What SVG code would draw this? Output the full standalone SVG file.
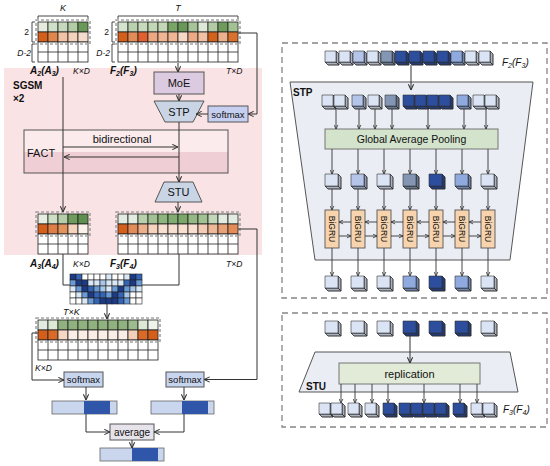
<svg xmlns="http://www.w3.org/2000/svg" xmlns:xlink="http://www.w3.org/1999/xlink" width="550" height="466" viewBox="0 0 550 466">
<style>
text{font-family:"Liberation Sans",Arial,sans-serif;fill:#111}
.c{stroke:#222;stroke-width:0.8}
.w{fill:#fff;stroke:#222;stroke-width:0.8}
.g{fill:none;stroke:#222;stroke-width:0.8}
.dash{fill:none;stroke:#a3a3a3;stroke-width:1.6;stroke-dasharray:3 2}
.dbox{fill:none;stroke:#858585;stroke-width:1.3;stroke-dasharray:6 4}
.ln{fill:none;stroke:#333;stroke-width:1}
.arr{fill:none;stroke:#333;stroke-width:1;marker-end:url(#ah)}
.arrs{fill:none;stroke:#333;stroke-width:0.9;marker-end:url(#ahs)}
.box{stroke:#555;stroke-width:1}
.mlab{font-size:10px;font-weight:bold;font-style:italic}
.dim{font-size:8.5px;font-style:italic}
.lbl{font-size:11px;text-anchor:middle}
.sm{font-size:9.5px;text-anchor:middle}
.br{fill:none;stroke:#333;stroke-width:0.9}
.bg{font-size:8.5px;text-anchor:middle}
</style>
<defs>
<marker id="ah" viewBox="0 0 8 8" refX="7.5" refY="4" markerWidth="7" markerHeight="7" markerUnits="userSpaceOnUse" orient="auto"><path d="M1,1 L7.5,4 L1,7" fill="none" stroke="#333" stroke-width="1.2"/></marker>
<marker id="ahs" viewBox="0 0 8 8" refX="7.5" refY="4" markerWidth="5" markerHeight="5" markerUnits="userSpaceOnUse" orient="auto"><path d="M1,1 L7.5,4 L1,7" fill="none" stroke="#333" stroke-width="1.3"/></marker>
<g id="cs" stroke="#333" stroke-width="0.6" stroke-linejoin="round">
<path d="M11,0 L14,3 L14,14 L11,11 Z M0,11 L11,11 L14,14 L3,14 Z"/>
<path d="M11,0 L14,3 L14,14 L11,11 Z M0,11 L11,11 L14,14 L3,14 Z" fill="#000" fill-opacity="0.22"/>
<rect x="0" y="0" width="11" height="11"/>
</g>
<g id="cl" stroke="#333" stroke-width="0.6" stroke-linejoin="round">
<path d="M13,0 L16,3 L16,15 L13,12 Z M0,12 L13,12 L16,15 L3,15 Z"/>
<path d="M13,0 L16,3 L16,15 L13,12 Z M0,12 L13,12 L16,15 L3,15 Z" fill="#000" fill-opacity="0.22"/>
<rect x="0" y="0" width="13" height="12"/>
</g>
</defs>
<rect width="550" height="466" fill="#fff"/>

<!-- SGSM background -->
<g id="sgsm">
<rect x="4" y="68" width="258" height="187" fill="#fae3e5"/>
<text x="13" y="89" style="font-size:10px;font-weight:bold">SGSM</text>
<text x="13" y="102" style="font-size:10px;font-weight:bold">×2</text>
</g>

<!-- A2 matrix -->
<g id="A2">
<text x="63" y="11" class="dim" text-anchor="middle" style="font-size:9px">K</text>
<path class="br" d="M38,19 V16 H88 V19"/>
<text x="29" y="35" style="font-size:8.5px" text-anchor="end">2</text>
<text x="31" y="56" class="dim" text-anchor="end">D-2</text>
<path class="br" d="M35,22 H32 V42 H35 M35,44 H32 V62 H35"/>
<rect class="c" x="38" y="22" width="10" height="10" fill="#e3ecdd"/>
<rect class="c" x="48" y="22" width="10" height="10" fill="#d0e0c8"/>
<rect class="c" x="58" y="22" width="10" height="10" fill="#c6d9bc"/>
<rect class="c" x="68" y="22" width="10" height="10" fill="#b2cca5"/>
<rect class="c" x="78" y="22" width="10" height="10" fill="#6a9858"/>
<rect class="c" x="38" y="32" width="10" height="10" fill="#d45f1b"/>
<rect class="c" x="48" y="32" width="10" height="10" fill="#e2874c"/>
<rect class="c" x="58" y="32" width="10" height="10" fill="#f2c4a5"/>
<rect class="c" x="68" y="32" width="10" height="10" fill="#f4d2bb"/>
<rect class="c" x="78" y="32" width="10" height="10" fill="#f6dccb"/>
<rect class="w" x="38" y="42" width="50" height="20"/>
<path class="g" d="M38,52 H88 M48,42 V62 M58,42 V62 M68,42 V62 M78,42 V62"/>
<rect class="dash" x="36" y="20" width="54" height="24"/>
<text x="30" y="74" class="mlab">A<tspan dy="2" style="font-size:7px">2</tspan><tspan dy="-2">(A</tspan><tspan dy="2" style="font-size:7px">3</tspan><tspan dy="-2">)</tspan></text>
<text x="73" y="74" class="dim">K×D</text>
</g>

<!-- F2 matrix -->
<g id="F2">
<text x="178" y="11" class="dim" text-anchor="middle" style="font-size:9px">T</text>
<path class="br" d="M118,19 V16 H238 V19"/>
<text x="109" y="35" style="font-size:8.5px" text-anchor="end">2</text>
<text x="110" y="56" class="dim" text-anchor="end">D-2</text>
<path class="br" d="M115,22 H112 V42 H115 M115,44 H112 V62 H115"/>
<rect class="c" x="118" y="22" width="10" height="10" fill="#d5e4cd"/>
<rect class="c" x="128" y="22" width="10" height="10" fill="#b9d1ad"/>
<rect class="c" x="138" y="22" width="10" height="10" fill="#c8dabd"/>
<rect class="c" x="148" y="22" width="10" height="10" fill="#c2d7b6"/>
<rect class="c" x="158" y="22" width="10" height="10" fill="#c2d7b6"/>
<rect class="c" x="168" y="22" width="10" height="10" fill="#79a566"/>
<rect class="c" x="178" y="22" width="10" height="10" fill="#6a9858"/>
<rect class="c" x="188" y="22" width="10" height="10" fill="#a7c498"/>
<rect class="c" x="198" y="22" width="10" height="10" fill="#dfe9d8"/>
<rect class="c" x="208" y="22" width="10" height="10" fill="#b2cba5"/>
<rect class="c" x="218" y="22" width="10" height="10" fill="#6f9b5c"/>
<rect class="c" x="228" y="22" width="10" height="10" fill="#a3c294"/>
<rect class="c" x="118" y="32" width="10" height="10" fill="#d45f1b"/>
<rect class="c" x="128" y="32" width="10" height="10" fill="#e38c58"/>
<rect class="c" x="138" y="32" width="10" height="10" fill="#e0602f"/>
<rect class="c" x="148" y="32" width="10" height="10" fill="#eda882"/>
<rect class="c" x="158" y="32" width="10" height="10" fill="#f0b593"/>
<rect class="c" x="168" y="32" width="10" height="10" fill="#f0b593"/>
<rect class="c" x="178" y="32" width="10" height="10" fill="#f7d8c6"/>
<rect class="c" x="188" y="32" width="10" height="10" fill="#eeaa85"/>
<rect class="c" x="198" y="32" width="10" height="10" fill="#f2c0a2"/>
<rect class="c" x="208" y="32" width="10" height="10" fill="#d4611c"/>
<rect class="c" x="218" y="32" width="10" height="10" fill="#edb08d"/>
<rect class="c" x="228" y="32" width="10" height="10" fill="#d9712f"/>
<rect class="w" x="118" y="42" width="120" height="20"/>
<path class="g" d="M118,52 H238 M128,42 V62 M138,42 V62 M148,42 V62 M158,42 V62 M168,42 V62 M178,42 V62 M188,42 V62 M198,42 V62 M208,42 V62 M218,42 V62 M228,42 V62"/>
<rect class="dash" x="116" y="20" width="124" height="24"/>
<text x="110" y="74" class="mlab">F<tspan dy="2" style="font-size:7px">2</tspan><tspan dy="-2">(F</tspan><tspan dy="2" style="font-size:7px">3</tspan><tspan dy="-2">)</tspan></text>
<text x="226" y="74" class="dim">T×D</text>
</g>

<!-- FACT -->
<g id="fact">
<rect x="24" y="130" width="204" height="43" fill="#fbebec"/>
<rect x="24" y="152" width="204" height="21" fill="#efcfd5"/>
<rect x="24" y="130" width="204" height="43" fill="none" stroke="#555" stroke-width="1"/>
<text x="27" y="157" style="font-size:11px">FACT</text>
<text x="122" y="143" class="lbl">bidirectional</text>
</g>

<g id="moe">
<rect class="box" x="154" y="72" width="50" height="22" fill="#dccbe0"/>
<text x="179" y="87" class="lbl">MoE</text>
</g>
<g id="stp-l">
<polygon class="box" points="154,101 204,101 193,122 165,122" fill="#c9d5e5"/>
<text x="179" y="116" class="lbl">STP</text>
</g>
<g id="softmax-top">
<rect class="box" x="208" y="106" width="40" height="16" fill="#c7cff0"/>
<text x="228" y="117.5" class="sm">softmax</text>
</g>
<g id="stu-l">
<polygon class="box" points="164,182 193,182 202,202 155,202" fill="#c9d5e5"/>
<text x="178.5" y="196" class="lbl">STU</text>
</g>

<!-- A3 matrix -->
<g id="A3">
<rect class="c" x="38" y="214" width="10" height="10" fill="#e6eee2"/>
<rect class="c" x="48" y="214" width="10" height="10" fill="#cddfc4"/>
<rect class="c" x="58" y="214" width="10" height="10" fill="#b5cea9"/>
<rect class="c" x="68" y="214" width="10" height="10" fill="#6f9b5c"/>
<rect class="c" x="78" y="214" width="10" height="10" fill="#5f8f4e"/>
<rect class="c" x="38" y="224" width="10" height="10" fill="#d45f1b"/>
<rect class="c" x="48" y="224" width="10" height="10" fill="#df7f45"/>
<rect class="c" x="58" y="224" width="10" height="10" fill="#e3925c"/>
<rect class="c" x="68" y="224" width="10" height="10" fill="#f5d3bd"/>
<rect class="c" x="78" y="224" width="10" height="10" fill="#fcf2ec"/>
<rect class="w" x="38" y="234" width="50" height="20"/>
<path class="g" d="M38,244 H88 M48,234 V254 M58,234 V254 M68,234 V254 M78,234 V254"/>
<rect class="dash" x="36" y="212" width="54" height="24"/>
<text x="30" y="267" class="mlab">A<tspan dy="2" style="font-size:7px">3</tspan><tspan dy="-2">(A</tspan><tspan dy="2" style="font-size:7px">4</tspan><tspan dy="-2">)</tspan></text>
<text x="73" y="267" class="dim">K×D</text>
</g>

<!-- F3 matrix -->
<g id="F3">
<rect class="c" x="118" y="214" width="10" height="10" fill="#e3ece0"/>
<rect class="c" x="128" y="214" width="10" height="10" fill="#e3ece0"/>
<rect class="c" x="138" y="214" width="10" height="10" fill="#b8d0ab"/>
<rect class="c" x="148" y="214" width="10" height="10" fill="#a3c294"/>
<rect class="c" x="158" y="214" width="10" height="10" fill="#8eb57d"/>
<rect class="c" x="168" y="214" width="10" height="10" fill="#82ad70"/>
<rect class="c" x="178" y="214" width="10" height="10" fill="#7ba86a"/>
<rect class="c" x="188" y="214" width="10" height="10" fill="#94b984"/>
<rect class="c" x="198" y="214" width="10" height="10" fill="#a3c294"/>
<rect class="c" x="208" y="214" width="10" height="10" fill="#c3d8b8"/>
<rect class="c" x="218" y="214" width="10" height="10" fill="#e3ece0"/>
<rect class="c" x="228" y="214" width="10" height="10" fill="#e3ece0"/>
<rect class="c" x="118" y="224" width="10" height="10" fill="#d45f1b"/>
<rect class="c" x="128" y="224" width="10" height="10" fill="#e38c58"/>
<rect class="c" x="138" y="224" width="10" height="10" fill="#edb08d"/>
<rect class="c" x="148" y="224" width="10" height="10" fill="#f5d3bd"/>
<rect class="c" x="158" y="224" width="10" height="10" fill="#f8dfd0"/>
<rect class="c" x="168" y="224" width="10" height="10" fill="#f8dfd0"/>
<rect class="c" x="178" y="224" width="10" height="10" fill="#f8dfd0"/>
<rect class="c" x="188" y="224" width="10" height="10" fill="#f8dfd0"/>
<rect class="c" x="198" y="224" width="10" height="10" fill="#f4ccb3"/>
<rect class="c" x="208" y="224" width="10" height="10" fill="#efb896"/>
<rect class="c" x="218" y="224" width="10" height="10" fill="#e9a276"/>
<rect class="c" x="228" y="224" width="10" height="10" fill="#e38c58"/>
<rect class="w" x="118" y="234" width="120" height="20"/>
<path class="g" d="M118,244 H238 M128,234 V254 M138,234 V254 M148,234 V254 M158,234 V254 M168,234 V254 M178,234 V254 M188,234 V254 M198,234 V254 M208,234 V254 M218,234 V254 M228,234 V254"/>
<rect class="dash" x="116" y="212" width="124" height="24"/>
<text x="110" y="267" class="mlab">F<tspan dy="2" style="font-size:7px">3</tspan><tspan dy="-2">(F</tspan><tspan dy="2" style="font-size:7px">4</tspan><tspan dy="-2">)</tspan></text>
<text x="226" y="267" class="dim">T×D</text>
</g>

<!-- attention T x K -->
<g id="attn" stroke="#222" stroke-width="0.6">
<rect x="70" y="274" width="6" height="6" fill="#1c3a86"/><rect x="76" y="274" width="6" height="6" fill="#3465b5"/><rect x="82" y="274" width="6" height="6" fill="#fff"/><rect x="88" y="274" width="6" height="6" fill="#fff"/><rect x="94" y="274" width="6" height="6" fill="#fff"/><rect x="100" y="274" width="6" height="6" fill="#fff"/><rect x="106" y="274" width="6" height="6" fill="#d9e8f7"/><rect x="112" y="274" width="6" height="6" fill="#fff"/><rect x="118" y="274" width="6" height="6" fill="#fff"/><rect x="124" y="274" width="6" height="6" fill="#d9e8f7"/><rect x="130" y="274" width="6" height="6" fill="#1c3a86"/><rect x="136" y="274" width="6" height="6" fill="#3465b5"/>
<rect x="70" y="280" width="6" height="6" fill="#6b9bd6"/><rect x="76" y="280" width="6" height="6" fill="#1c3a86"/><rect x="82" y="280" width="6" height="6" fill="#1c3a86"/><rect x="88" y="280" width="6" height="6" fill="#d9e8f7"/><rect x="94" y="280" width="6" height="6" fill="#d9e8f7"/><rect x="100" y="280" width="6" height="6" fill="#a7c7ea"/><rect x="106" y="280" width="6" height="6" fill="#d9e8f7"/><rect x="112" y="280" width="6" height="6" fill="#d9e8f7"/><rect x="118" y="280" width="6" height="6" fill="#d9e8f7"/><rect x="124" y="280" width="6" height="6" fill="#3465b5"/><rect x="130" y="280" width="6" height="6" fill="#1c3a86"/><rect x="136" y="280" width="6" height="6" fill="#6b9bd6"/>
<rect x="70" y="286" width="6" height="6" fill="#d9e8f7"/><rect x="76" y="286" width="6" height="6" fill="#6b9bd6"/><rect x="82" y="286" width="6" height="6" fill="#1c3a86"/><rect x="88" y="286" width="6" height="6" fill="#3465b5"/><rect x="94" y="286" width="6" height="6" fill="#6b9bd6"/><rect x="100" y="286" width="6" height="6" fill="#a7c7ea"/><rect x="106" y="286" width="6" height="6" fill="#d9e8f7"/><rect x="112" y="286" width="6" height="6" fill="#6b9bd6"/><rect x="118" y="286" width="6" height="6" fill="#1c3a86"/><rect x="124" y="286" width="6" height="6" fill="#6b9bd6"/><rect x="130" y="286" width="6" height="6" fill="#a7c7ea"/><rect x="136" y="286" width="6" height="6" fill="#d9e8f7"/>
<rect x="70" y="292" width="6" height="6" fill="#fff"/><rect x="76" y="292" width="6" height="6" fill="#d9e8f7"/><rect x="82" y="292" width="6" height="6" fill="#6b9bd6"/><rect x="88" y="292" width="6" height="6" fill="#1c3a86"/><rect x="94" y="292" width="6" height="6" fill="#3465b5"/><rect x="100" y="292" width="6" height="6" fill="#3465b5"/><rect x="106" y="292" width="6" height="6" fill="#6b9bd6"/><rect x="112" y="292" width="6" height="6" fill="#1c3a86"/><rect x="118" y="292" width="6" height="6" fill="#3465b5"/><rect x="124" y="292" width="6" height="6" fill="#a7c7ea"/><rect x="130" y="292" width="6" height="6" fill="#fff"/><rect x="136" y="292" width="6" height="6" fill="#fff"/>
<rect x="70" y="298" width="6" height="6" fill="#fff"/><rect x="76" y="298" width="6" height="6" fill="#fff"/><rect x="82" y="298" width="6" height="6" fill="#d9e8f7"/><rect x="88" y="298" width="6" height="6" fill="#6b9bd6"/><rect x="94" y="298" width="6" height="6" fill="#3465b5"/><rect x="100" y="298" width="6" height="6" fill="#1c3a86"/><rect x="106" y="298" width="6" height="6" fill="#1c3a86"/><rect x="112" y="298" width="6" height="6" fill="#1c3a86"/><rect x="118" y="298" width="6" height="6" fill="#3465b5"/><rect x="124" y="298" width="6" height="6" fill="#6b9bd6"/><rect x="130" y="298" width="6" height="6" fill="#fff"/><rect x="136" y="298" width="6" height="6" fill="#fff"/>
<text x="63" y="315" class="dim" stroke="none" style="font-size:9px">T×K</text>
</g>

<!-- bottom matrix -->
<g id="Mout">
<rect class="c" x="38" y="320" width="10" height="10" fill="#e3ece0"/>
<rect class="c" x="48" y="320" width="10" height="10" fill="#dde9d6"/>
<rect class="c" x="58" y="320" width="10" height="10" fill="#8fb27e"/>
<rect class="c" x="68" y="320" width="10" height="10" fill="#8fb27e"/>
<rect class="c" x="78" y="320" width="10" height="10" fill="#8fb27e"/>
<rect class="c" x="88" y="320" width="10" height="10" fill="#8fb27e"/>
<rect class="c" x="98" y="320" width="10" height="10" fill="#8fb27e"/>
<rect class="c" x="108" y="320" width="10" height="10" fill="#8fb27e"/>
<rect class="c" x="118" y="320" width="10" height="10" fill="#8fb27e"/>
<rect class="c" x="128" y="320" width="10" height="10" fill="#9dbb8d"/>
<rect class="c" x="138" y="320" width="10" height="10" fill="#dde9d6"/>
<rect class="c" x="148" y="320" width="10" height="10" fill="#eef3ec"/>
<rect class="c" x="38" y="330" width="10" height="10" fill="#d45f1b"/>
<rect class="c" x="48" y="330" width="10" height="10" fill="#d96a28"/>
<rect class="c" x="58" y="330" width="10" height="10" fill="#f6d7c3"/>
<rect class="c" x="68" y="330" width="10" height="10" fill="#fbeee6"/>
<rect class="c" x="78" y="330" width="10" height="10" fill="#fbeee6"/>
<rect class="c" x="88" y="330" width="10" height="10" fill="#fbeee6"/>
<rect class="c" x="98" y="330" width="10" height="10" fill="#fbeee6"/>
<rect class="c" x="108" y="330" width="10" height="10" fill="#fbeee6"/>
<rect class="c" x="118" y="330" width="10" height="10" fill="#fbeee6"/>
<rect class="c" x="128" y="330" width="10" height="10" fill="#f4d0b8"/>
<rect class="c" x="138" y="330" width="10" height="10" fill="#d96a28"/>
<rect class="c" x="148" y="330" width="10" height="10" fill="#d45f1b"/>
<rect class="w" x="38" y="340" width="120" height="20"/>
<path class="g" d="M38,350 H158 M48,340 V360 M58,340 V360 M68,340 V360 M78,340 V360 M88,340 V360 M98,340 V360 M108,340 V360 M118,340 V360 M128,340 V360 M138,340 V360 M148,340 V360"/>
<rect class="dash" x="36" y="318" width="124" height="24"/>
<text x="35" y="371" class="dim">K×D</text>
</g>

<g id="softmax-l">
<rect class="box" x="64" y="372" width="39" height="15" fill="#c8d5ef"/>
<text x="83.5" y="383" class="sm">softmax</text>
</g>
<g id="softmax-r">
<rect class="box" x="166" y="372" width="38" height="15" fill="#c8d5ef"/>
<text x="185" y="383" class="sm">softmax</text>
</g>
<g id="bar1">
<rect x="52" y="401" width="65" height="13" fill="#c9d6ee" stroke="#666" stroke-width="0.8"/>
<rect x="84" y="401" width="26" height="13" fill="#2f56a8"/>
</g>
<g id="bar2">
<rect x="151" y="401" width="63" height="13" fill="#c9d6ee" stroke="#666" stroke-width="0.8"/>
<rect x="182" y="401" width="26" height="13" fill="#2f56a8"/>
</g>
<g id="average">
<rect class="box" x="110" y="424" width="44" height="16" fill="#e6e3ea"/>
<text x="132" y="435.5" class="sm" style="font-size:10px">average</text>
</g>
<g id="bar3">
<rect x="100" y="448" width="64" height="13" fill="#c9d6ee" stroke="#666" stroke-width="0.8"/>
<rect x="132" y="448" width="26" height="13" fill="#2f56a8"/>
</g>

<!-- left connectors -->
<g id="connectors-left">
<path class="arr" d="M63,77 V212"/>
<path class="arr" d="M178,63 V72"/>
<path class="arr" d="M179,94 V101"/>
<path class="arr" d="M238,33 H257 V114 H248"/>
<path class="arr" d="M208,114 H196"/>
<path class="arr" d="M179,122 V182"/>
<path class="arr" d="M63,147 H178"/>
<path class="arr" d="M179,157 H64"/>
<path class="arr" d="M178,202 V212"/>
<path class="arr" d="M238,229 H257 V379.5 H204"/>
<path class="ln" d="M63,254 V285 H70"/>
<path class="ln" d="M179,254 V285 H142"/>
<path class="arr" d="M107,304 V319"/>
<path class="arr" d="M38,333 H32 V380 H64"/>
<path class="arr" d="M86,387 V400"/>
<path class="arr" d="M184,387 V400"/>
<path class="arr" d="M86,414 V432 H110"/>
<path class="arr" d="M184,414 V432 H154"/>
<path class="arr" d="M132,440 V448"/>
</g>

<!-- STP detail -->
<g id="stp-detail">
<rect class="dbox" x="282" y="43" width="265" height="255"/>
<polygon points="290,82 533,82 510,260 315,260" fill="#eaedf3" stroke="#555" stroke-width="1"/>
<text x="293" y="96" style="font-size:10px;font-weight:bold">STP</text>
<g id="seq-F2">
<use href="#cs" x="325" y="51" fill="#dbe4f5"/><use href="#cs" x="339" y="51" fill="#dbe4f5"/><use href="#cs" x="353" y="51" fill="#b4c5e9"/><use href="#cs" x="367" y="51" fill="#dbe4f5"/><use href="#cs" x="381" y="51" fill="#8397b5"/><use href="#cs" x="395" y="51" fill="#2c4e9d"/><use href="#cs" x="409" y="51" fill="#2c4e9d"/><use href="#cs" x="423" y="51" fill="#2c4e9d"/><use href="#cs" x="437" y="51" fill="#2c4e9d"/><use href="#cs" x="451" y="51" fill="#8eaadf"/><use href="#cs" x="465" y="51" fill="#dbe4f5"/><use href="#cs" x="479" y="51" fill="#dbe4f5"/>
<text x="502" y="66" style="font-size:10px;font-style:italic">F<tspan dy="2" style="font-size:7px">2</tspan><tspan dy="-2">(F</tspan><tspan dy="2" style="font-size:7px">3</tspan><tspan dy="-2">)</tspan></text>
</g>
<g id="seq-groups">
<use href="#cs" x="322" y="95" fill="#dbe4f5"/><use href="#cs" x="334" y="95" fill="#dbe4f5"/>
<use href="#cs" x="352" y="95" fill="#b4c5e9"/>
<use href="#cs" x="368" y="95" fill="#dbe4f5"/>
<use href="#cs" x="385" y="95" fill="#8397b5"/>
<use href="#cs" x="403" y="95" fill="#2c4e9d"/><use href="#cs" x="415" y="95" fill="#2c4e9d"/><use href="#cs" x="427" y="95" fill="#2c4e9d"/><use href="#cs" x="439" y="95" fill="#2c4e9d"/>
<use href="#cs" x="457" y="95" fill="#8eaadf"/>
<use href="#cs" x="473" y="95" fill="#dbe4f5"/><use href="#cs" x="485" y="95" fill="#dbe4f5"/>
</g>
<g id="gap">
<rect x="325" y="129" width="173" height="20" fill="#d3e3cc" stroke="#777" stroke-width="1"/>
<text x="411.5" y="143" class="lbl" style="font-size:10.5px">Global Average Pooling</text>
</g>
<g id="pooled">
<use href="#cl" x="325" y="174" fill="#dbe4f5"/><use href="#cl" x="351" y="174" fill="#b4c5e9"/><use href="#cl" x="377" y="174" fill="#dbe4f5"/><use href="#cl" x="403" y="174" fill="#8397b5"/><use href="#cl" x="429" y="174" fill="#2c4e9d"/><use href="#cl" x="455" y="174" fill="#8eaadf"/><use href="#cl" x="481" y="174" fill="#dbe4f5"/>
</g>
<g id="bigru">
<rect x="325" y="210" width="14" height="38" fill="#f8d4ae" stroke="#555" stroke-width="0.9"/>
<rect x="351" y="210" width="14" height="38" fill="#f8d4ae" stroke="#555" stroke-width="0.9"/>
<rect x="377" y="210" width="14" height="38" fill="#f8d4ae" stroke="#555" stroke-width="0.9"/>
<rect x="403" y="210" width="14" height="38" fill="#f8d4ae" stroke="#555" stroke-width="0.9"/>
<rect x="429" y="210" width="14" height="38" fill="#f8d4ae" stroke="#555" stroke-width="0.9"/>
<rect x="455" y="210" width="14" height="38" fill="#f8d4ae" stroke="#555" stroke-width="0.9"/>
<rect x="481" y="210" width="14" height="38" fill="#f8d4ae" stroke="#555" stroke-width="0.9"/>
<text class="bg" transform="translate(332,229) rotate(90)" dy="3">BiGRU</text>
<text class="bg" transform="translate(358,229) rotate(90)" dy="3">BiGRU</text>
<text class="bg" transform="translate(384,229) rotate(90)" dy="3">BiGRU</text>
<text class="bg" transform="translate(410,229) rotate(90)" dy="3">BiGRU</text>
<text class="bg" transform="translate(436,229) rotate(90)" dy="3">BiGRU</text>
<text class="bg" transform="translate(462,229) rotate(90)" dy="3">BiGRU</text>
<text class="bg" transform="translate(488,229) rotate(90)" dy="3">BiGRU</text>
</g>
<g id="stp-out">
<use href="#cl" x="325" y="276" fill="#dbe4f5"/><use href="#cl" x="351" y="276" fill="#dbe4f5"/><use href="#cl" x="377" y="276" fill="#dbe4f5"/><use href="#cl" x="403" y="276" fill="#8eaadf"/><use href="#cl" x="429" y="276" fill="#2c4e9d"/><use href="#cl" x="455" y="276" fill="#8eaadf"/><use href="#cl" x="481" y="276" fill="#dbe4f5"/>
</g>
</g>

<!-- STU detail -->
<g id="stu-detail">
<rect class="dbox" x="282" y="313" width="265" height="114"/>
<g id="stu-in">
<use href="#cl" x="325" y="321" fill="#dbe4f5"/><use href="#cl" x="351" y="321" fill="#dbe4f5"/><use href="#cl" x="377" y="321" fill="#dbe4f5"/><use href="#cl" x="403" y="321" fill="#2c4e9d"/><use href="#cl" x="429" y="321" fill="#2c4e9d"/><use href="#cl" x="455" y="321" fill="#2c4e9d"/><use href="#cl" x="481" y="321" fill="#dbe4f5"/>
</g>
<polygon points="315,352 510,352 518,392 299,392" fill="#eaedf3" stroke="#555" stroke-width="1"/>
<text x="306" y="390" style="font-size:10px;font-weight:bold">STU</text>
<g id="replication">
<rect x="339" y="363" width="141" height="21" fill="#e1ebd8" stroke="#777" stroke-width="1"/>
<text x="409.5" y="378" class="lbl">replication</text>
</g>
<g id="stu-out">
<use href="#cs" x="319" y="403" fill="#dbe4f5"/><use href="#cs" x="331" y="403" fill="#dbe4f5"/>
<use href="#cs" x="348" y="403" fill="#dbe4f5"/>
<use href="#cs" x="365" y="403" fill="#dbe4f5"/>
<use href="#cs" x="383" y="403" fill="#2c4e9d"/>
<use href="#cs" x="399" y="403" fill="#2c4e9d"/><use href="#cs" x="411" y="403" fill="#2c4e9d"/><use href="#cs" x="423" y="403" fill="#2c4e9d"/><use href="#cs" x="435" y="403" fill="#2c4e9d"/>
<use href="#cs" x="453" y="403" fill="#2c4e9d"/>
<use href="#cs" x="471" y="403" fill="#dbe4f5"/><use href="#cs" x="483" y="403" fill="#dbe4f5"/>
<text x="503" y="413" style="font-size:10px;font-style:italic">F<tspan dy="2" style="font-size:7px">3</tspan><tspan dy="-2">(F</tspan><tspan dy="2" style="font-size:7px">4</tspan><tspan dy="-2">)</tspan></text>
</g>
</g>

<!-- right connectors -->
<g id="connectors-right">
<path class="arr" d="M411,65 V90"/>
<path class="arrs" d="M336,109 V129"/><path class="arrs" d="M359,109 V129"/><path class="arrs" d="M375,109 V129"/><path class="arrs" d="M392,109 V129"/><path class="arrs" d="M428,109 V129"/><path class="arrs" d="M464,109 V129"/><path class="arrs" d="M486,109 V129"/>
<path class="arrs" d="M332,149 V174"/><path class="arrs" d="M358,149 V174"/><path class="arrs" d="M384,149 V174"/><path class="arrs" d="M410,149 V174"/><path class="arrs" d="M436,149 V174"/><path class="arrs" d="M462,149 V174"/><path class="arrs" d="M488,149 V174"/>
<path class="arrs" d="M332,189 V210"/><path class="arrs" d="M358,189 V210"/><path class="arrs" d="M384,189 V210"/><path class="arrs" d="M410,189 V210"/><path class="arrs" d="M436,189 V210"/><path class="arrs" d="M462,189 V210"/><path class="arrs" d="M488,189 V210"/>
<path class="arrs" d="M351,222 H339"/><path class="arrs" d="M377,222 H365"/><path class="arrs" d="M403,222 H391"/><path class="arrs" d="M429,222 H417"/><path class="arrs" d="M455,222 H443"/><path class="arrs" d="M481,222 H469"/>
<path class="arrs" d="M339,236 H351"/><path class="arrs" d="M365,236 H377"/><path class="arrs" d="M391,236 H403"/><path class="arrs" d="M417,236 H429"/><path class="arrs" d="M443,236 H455"/><path class="arrs" d="M469,236 H481"/>
<path class="arrs" d="M332,248 V276"/><path class="arrs" d="M358,248 V276"/><path class="arrs" d="M384,248 V276"/><path class="arrs" d="M410,248 V276"/><path class="arrs" d="M436,248 V276"/><path class="arrs" d="M462,248 V276"/><path class="arrs" d="M488,248 V276"/>
<path class="arr" d="M410,336 V363"/>
<path class="arrs" d="M341,384 V403"/><path class="arrs" d="M355,384 V403"/><path class="arrs" d="M372,384 V403"/><path class="arrs" d="M388,384 V403"/><path class="arrs" d="M424,384 V403"/><path class="arrs" d="M460,384 V403"/><path class="arrs" d="M477,384 V403"/>
</g>
</svg>
